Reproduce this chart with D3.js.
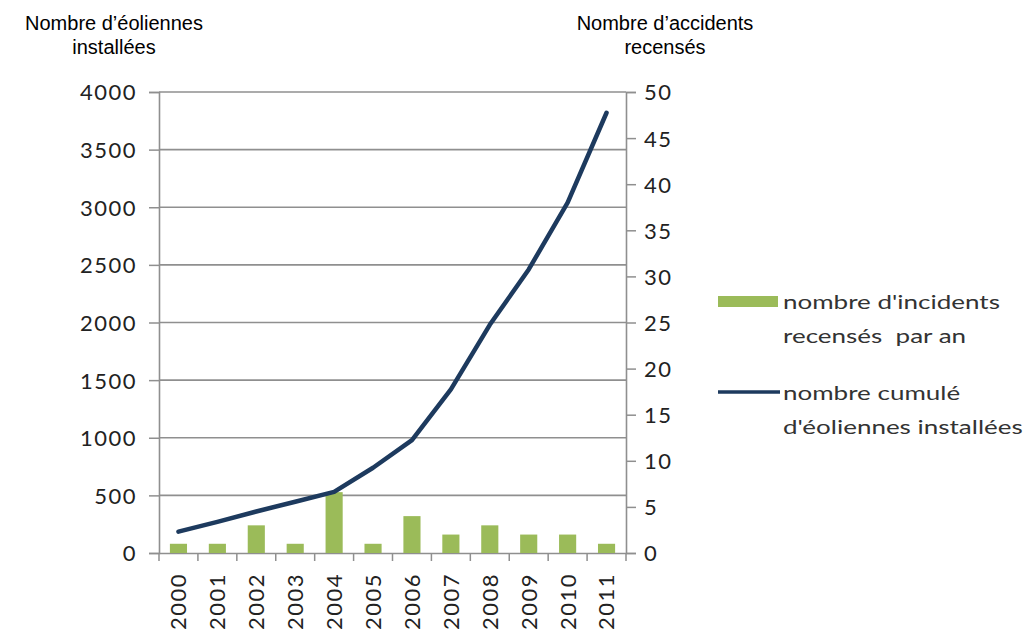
<!DOCTYPE html>
<html lang="fr">
    <head>
        <meta charset="utf-8">
        <title>Eoliennes et accidents</title>
        <!-- Load d3.js -->
        <script src="https://d3js.org/d3.v7.min.js"></script>
        <style>
        body {margin: 0; background: #fff;}
        .tick text {font-family: Lato, "Open Sans", sans-serif; fill: #222; letter-spacing: 1.5px;}
        </style>
    </head>
<body>

    <div id="my_dataviz"></div>

    <script>

    // data
    var years = ["2000","2001","2002","2003","2004","2005","2006","2007","2008","2009","2010","2011"];
    var incidents = [1, 1, 3, 1, 6.6, 1, 4, 2, 3, 2, 2, 1];
    var turbines = [185, 270, 360, 445, 530, 740, 980, 1420, 1980, 2460, 3040, 3820];
    var leftTicks = [0, 500, 1000, 1500, 2000, 2500, 3000, 3500, 4000];
    var rightTicks = [0, 5, 10, 15, 20, 25, 30, 35, 40, 45, 50];

    // dimensions of the plot area
    var margin = {top: 92, right: 404, bottom: 83, left: 159},
        width = 1030 - margin.left - margin.right,
        height = 636 - margin.top - margin.bottom;

    var svg = d3.select("#my_dataviz")
      .append("svg")
        .attr("width", 1030)
        .attr("height", 636)
      .append("g")
        .attr("transform", "translate(" + margin.left + "," + margin.top + ")");

    // scales
    var x = d3.scaleBand()
      .domain(years)
      .range([0, width])
      .paddingInner(0.56)
      .paddingOuter(0.28);
    var yLeft = d3.scaleLinear().domain([0, 4000]).range([height, 0]);
    var yRight = d3.scaleLinear().domain([0, 50]).range([height, 0]);

    var gridColor = "#8f8f8f";

    // horizontal grid lines
    svg.append("g")
      .selectAll("line")
      .data(leftTicks.slice(1))
      .enter()
      .append("line")
        .attr("x1", 0)
        .attr("x2", width)
        .attr("y1", function(d) { return yLeft(d); })
        .attr("y2", function(d) { return yLeft(d); })
        .attr("stroke", gridColor)
        .attr("stroke-width", 1.6);

    // left axis
    var leftAxis = svg.append("g")
      .call(d3.axisLeft(yLeft).tickValues(leftTicks).tickFormat(d3.format("d")).tickSize(10).tickPadding(12));
    leftAxis.selectAll("text").style("font-size", "22px").attr("dy", "0.36em");

    // right axis
    var rightAxis = svg.append("g")
      .attr("transform", "translate(" + width + ",0)")
      .call(d3.axisRight(yRight).tickValues(rightTicks).tickSize(10).tickPadding(8));
    rightAxis.selectAll("text").style("font-size", "22px").attr("dy", "0.36em");

    // bottom axis: ticks on the category boundaries
    var step = x.step();
    var bottomAxis = svg.append("g")
      .attr("transform", "translate(0," + height + ")")
      .call(d3.axisBottom(x).tickSize(0).tickPadding(0));
    bottomAxis.selectAll("text")
      .style("font-size", "22px")
      .attr("text-anchor", "end")
      .attr("transform", "rotate(-90)")
      .attr("x", -20)
      .attr("y", 0)
      .attr("dy", "0.36em");
    bottomAxis.selectAll(".tick line").remove();
    bottomAxis.append("g")
      .selectAll("line")
      .data(d3.range(years.length + 1))
      .enter()
      .append("line")
        .attr("x1", function(d) { return d * step; })
        .attr("x2", function(d) { return d * step; })
        .attr("y1", 0)
        .attr("y2", 8)
        .attr("stroke", gridColor)
        .attr("stroke-width", 1.5);

    svg.selectAll(".domain").attr("stroke", gridColor).attr("stroke-width", 1.6);
    svg.selectAll(".tick line").attr("stroke", gridColor).attr("stroke-width", 1.5);

    // bars (right axis)
    svg.append("g")
      .selectAll("rect")
      .data(years)
      .enter()
      .append("rect")
        .attr("x", function(d) { return x(d); })
        .attr("y", function(d, i) { return yRight(incidents[i]); })
        .attr("width", x.bandwidth())
        .attr("height", function(d, i) { return height - yRight(incidents[i]); })
        .attr("fill", "#9bbb59");

    // cumulated line (left axis)
    var line = d3.line()
      .x(function(d, i) { return x(years[i]) + x.bandwidth() / 2; })
      .y(function(d) { return yLeft(d); });
    svg.append("path")
      .datum(turbines)
      .attr("d", line)
      .attr("fill", "none")
      .attr("stroke", "#1d3a5e")
      .attr("stroke-width", 4.5)
      .attr("stroke-linejoin", "round")
      .attr("stroke-linecap", "round");

    // axis titles
    var root = d3.select("svg");
    var titleStyle = function(sel) {
      sel.attr("text-anchor", "middle")
        .style("font-family", "'Liberation Sans', Arial, sans-serif")
        .style("font-size", "20px")
        .attr("fill", "#000");
    };
    root.append("text").attr("x", 114).attr("y", 30).text("Nombre d\u2019éoliennes").call(titleStyle);
    root.append("text").attr("x", 114).attr("y", 54).text("installées").call(titleStyle);
    root.append("text").attr("x", 665).attr("y", 30).text("Nombre d\u2019accidents").call(titleStyle);
    root.append("text").attr("x", 665).attr("y", 54).text("recensés").call(titleStyle);

    // legend
    var legend = root.append("g")
      .style("font-family", "Lato, 'Open Sans', sans-serif")
      .style("font-size", "20px")
      .attr("fill", "#333");
    legend.append("rect")
      .attr("x", 718).attr("y", 296)
      .attr("width", 60).attr("height", 11)
      .attr("fill", "#9bbb59");
    legend.append("line")
      .attr("x1", 718).attr("x2", 780)
      .attr("y1", 392).attr("y2", 392)
      .attr("stroke", "#1d3a5e")
      .attr("stroke-width", 3.5);
    var legendLines = [
      {y: 309, t: "nombre d'incidents"},
      {y: 343, t: "recensés  par an"},
      {y: 400, t: "nombre cumulé"},
      {y: 434, t: "d'éoliennes installées"}
    ];
    legend.selectAll("text.lg")
      .data(legendLines)
      .enter()
      .append("text")
        .attr("class", "lg")
        .attr("transform", function(d) { return "translate(783," + d.y + ") scale(1.3,1)"; })
        .style("white-space", "pre")
        .text(function(d) { return d.t; });

    </script>
  </body>
</html>
